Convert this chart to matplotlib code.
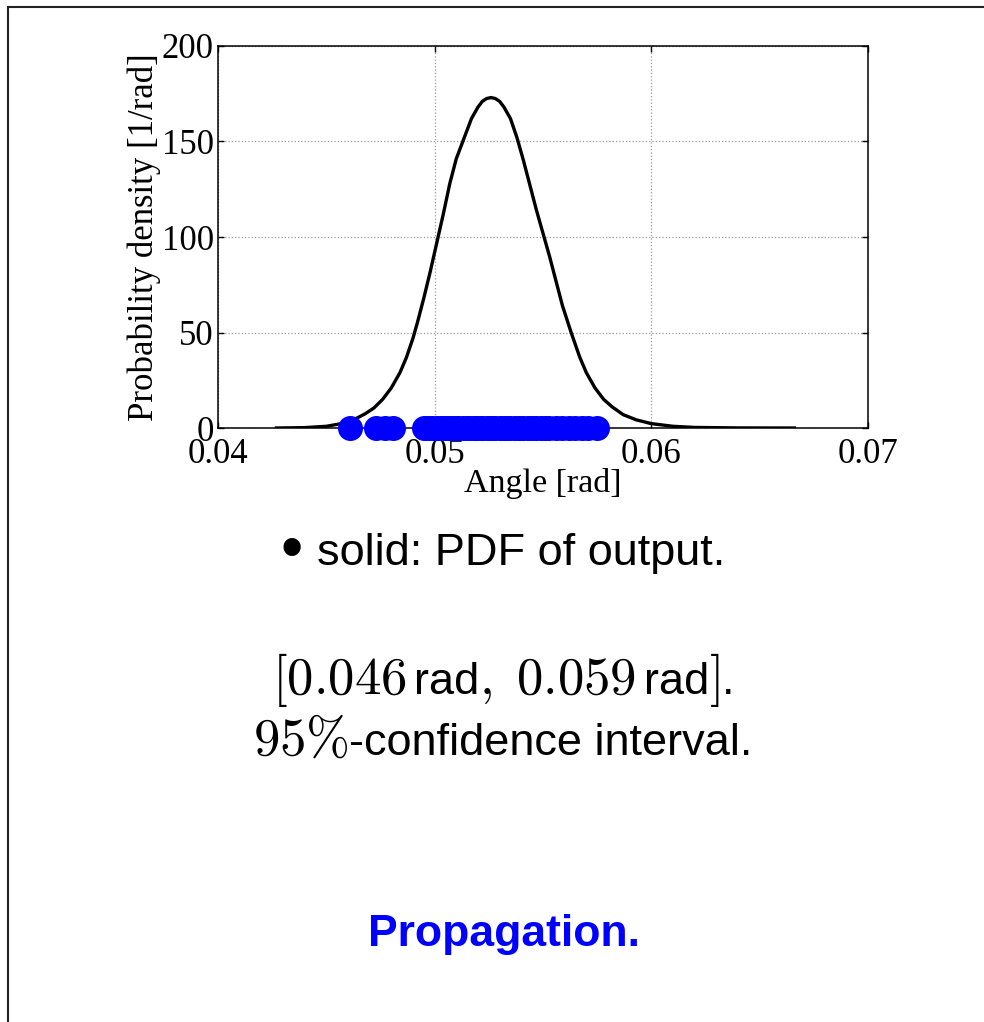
import matplotlib
matplotlib.use("Agg")
import matplotlib.pyplot as plt
from matplotlib.lines import Line2D

# PDF of the output angle
angle = [0.0427, 0.0440, 0.0450, 0.0458, 0.0463, 0.0468, 0.0472, 0.0476, 0.0480,
         0.0484, 0.0487, 0.0490, 0.0492, 0.0495, 0.0498, 0.0501, 0.0504, 0.0507,
         0.0510, 0.0514, 0.0517, 0.0520, 0.0522, 0.0524, 0.0526, 0.0528, 0.0530,
         0.0532, 0.0535, 0.0538, 0.0541, 0.0544, 0.0547, 0.0550, 0.0553, 0.0556,
         0.0559, 0.0563, 0.0567, 0.0570, 0.0574, 0.0578, 0.0582, 0.0587, 0.0593,
         0.0600, 0.0610, 0.0620, 0.0640, 0.0666]
density = [0.0, 0.2, 0.9, 2.5, 4.5, 7.5, 10.5, 15, 21,
           29, 37, 47, 55, 68, 82, 97, 112, 128,
           141, 153, 162, 168, 171, 172.5, 173, 172.5, 171,
           168, 162, 152, 140, 127, 114, 102, 90, 77,
           64, 50, 37, 29, 21, 15, 11, 7, 4.3,
           2.3, 0.9, 0.3, 0.05, 0.0]

# Monte Carlo samples shown as dots on the axis
samples = [0.0461, 0.0473, 0.0477, 0.0481, 0.0495, 0.0497, 0.0499, 0.0501, 0.0503,
           0.0505, 0.0506, 0.0508, 0.0510, 0.0511, 0.0513, 0.0515, 0.0516, 0.0518,
           0.0519, 0.0521, 0.0522, 0.0524, 0.0525, 0.0527, 0.0528, 0.0530, 0.0532,
           0.0533, 0.0535, 0.0537, 0.0539, 0.0541, 0.0543, 0.0545, 0.0547, 0.0549,
           0.0551, 0.0553, 0.0556, 0.0559, 0.0562, 0.0565, 0.0568, 0.0571, 0.0575]

xticks = [0.04, 0.05, 0.06, 0.07]
xticklabels = ['0.04', '0.05', '0.06', '0.07']
yticks = [0, 50, 100, 150, 200]

plt.rcParams['mathtext.fontset'] = 'cm'
plt.rcParams['font.family'] = ['Liberation Sans', 'DejaVu Sans']

W, H = 984, 1022
fig = plt.figure(figsize=(W / 100, H / 100), dpi=100)
ax = fig.add_axes([0.2215, 0.5812, 0.6606, 0.3738])

ax.plot(angle, density, color='black', lw=2.4, zorder=3)
ax.plot(samples, [0] * len(samples), 'o', color='#0000ff', ms=18, mec='none',
        clip_on=False, zorder=4)

ax.set_xlim(0.04, 0.07)
ax.set_ylim(0, 200)
ax.set_xticks(xticks)
ax.set_xticklabels(xticklabels)
ax.set_yticks(yticks)
ax.grid(True, linestyle=':', color='#999999', lw=0.9)
ax.tick_params(direction='in', length=4, width=1, top=True, right=True)
ax.tick_params(axis='x', pad=7)
ax.tick_params(axis='y', pad=3)
for lab in ax.get_xticklabels() + ax.get_yticklabels():
    lab.set_fontfamily('Liberation Serif')
    lab.set_fontsize(25)
for sp in ax.spines.values():
    sp.set_linewidth(1.1)

ax.set_xlabel('Angle [rad]', fontfamily='Liberation Serif', fontsize=24.5)
ax.set_ylabel('Probability density [1/rad]', fontfamily='Liberation Serif', fontsize=25)
ax.xaxis.set_label_coords(0.5, -0.104)
ax.yaxis.set_label_coords(-0.088, 0.5)

# slide frame
fig.add_artist(Line2D([0.0086, 1.0], [0.9936, 0.9936], color='#222222', lw=1.5))
fig.add_artist(Line2D([0.0086, 0.0086], [0.0, 0.9936], color='#222222', lw=1.5))

SANS = 32.5
MATH = 38


def text_line(pieces, xc, ybase):
    # pieces: (string, fontsize, gap before in px); laid out left to right, centred
    renderer = fig.canvas.get_renderer()
    texts, widths = [], []
    for s, size, gap in pieces:
        t = fig.text(0, 1 - ybase / H, s, va='baseline', ha='left', fontsize=size)
        texts.append(t)
        widths.append(t.get_window_extent(renderer).width + gap)
    x = xc - sum(widths) / 2
    for t, w, (s, size, gap) in zip(texts, widths, pieces):
        t.set_x((x + gap) / W)
        x += w


fig.text(292 / W, 1 - 552 / H, '\u2022', ha='center', va='center', fontsize=46)
text_line([('solid: PDF of output.', SANS, 0)], 521, 565)
text_line([(r'$[0.046$', MATH, 0), ('rad', SANS, 8), (r'$,$', MATH, 0),
           (r'$0.059$', MATH, 24), ('rad', SANS, 8), (r'$]$', MATH, 0),
           ('.', SANS, 2)], 503, 694)
text_line([(r'$95\%$', MATH, 0), ('-confidence interval.', SANS, 0)], 503, 755)

fig.text(504 / W, 1 - 946 / H, 'Propagation.', ha='center', va='baseline',
         fontsize=32, fontweight='bold', color='#0000ff')

fig.savefig('out.png', dpi=100)
